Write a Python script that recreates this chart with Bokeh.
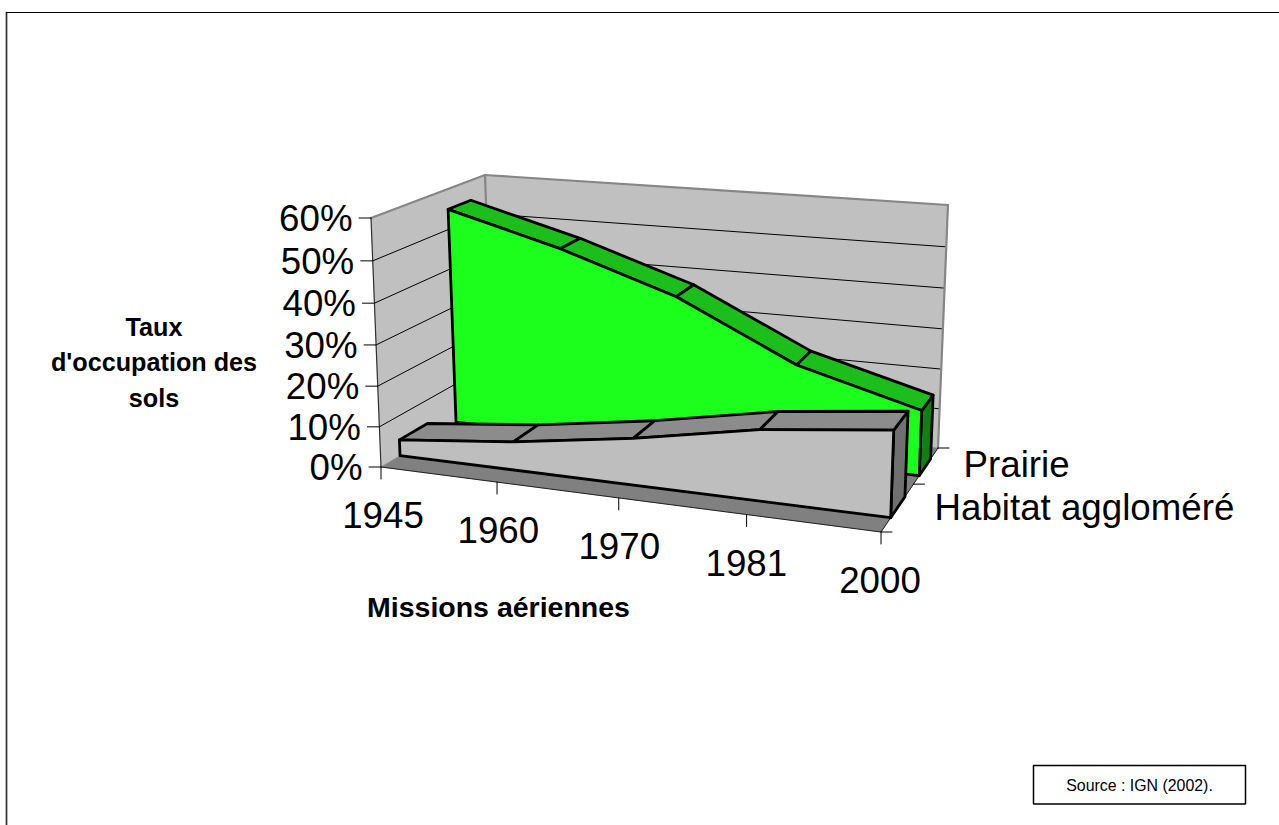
from bokeh.plotting import figure
from bokeh.embed import file_html
from bokeh.resources import INLINE
from bokeh.core.properties import value
from bokeh.models import Range1d

years = ["1945", "1960", "1970", "1981", "2000"]
series_names = ["Prairie", "Habitat aggloméré"]
prairie = [55.0, 47.4, 38.0, 24.0, 16.0]
habitat = [4.0, 7.0, 11.4, 17.0, 20.4]
y_ticks = [0, 10, 20, 30, 40, 50, 60]
y_title = ["Taux", "d'occupation des", "sols"]
x_title = "Missions aériennes"
source_note = "Source : IGN (2002)."

W, H = 1279, 825
FONT = value("Liberation Sans")

# Screen corners of the 3D box (front/back, left/right, bottom/top)
FLB, FLT = (381, 467), (371, 218)
BLB, BLT = (493, 400), (485, 175)
BRB, BRT = (938, 448), (948, 205)
FRB, FRT = (881, 532), (890, 263)
PERSP = 1.103
PERSP_V = 1.04
YMAX = 60.0


def lerp(a, b, t):
    return (a[0] + (b[0] - a[0]) * t, a[1] + (b[1] - a[1]) * t)


def proj(i, depth, val):
    """category index, screen depth fraction, value -> page position"""
    t = i / (len(years) - 1)
    u = t / (t + PERSP * (1 - t)) if t > 0 else 0.0
    f = val / YMAX
    w = f / (f + PERSP_V * (1 - f)) if f > 0 else 0.0
    bot = lerp(lerp(FLB, FRB, u), lerp(BLB, BRB, u), depth)
    top = lerp(lerp(FLT, FRT, u), lerp(BLT, BRT, u), depth)
    return lerp(bot, top, w)


def poly(p, pts, fill, line=None, lw=0):
    p.patch([q[0] for q in pts], [q[1] for q in pts], fill_color=fill,
            line_color=line if line else fill, line_width=lw if line else 0.5,
            line_join="round")


def seg(p, a, b, color="black", lw=1.0):
    p.line([a[0], b[0]], [a[1], b[1]], line_color=color, line_width=lw, line_cap="round")


def text(p, x, y, s, size, align="center", bold=False):
    p.text([x], [y], text=[s], text_font=FONT, text_font_size=f"{size}px",
           text_align=align, text_baseline="middle", text_color="black",
           text_font_style="bold" if bold else "normal")


p = figure(width=W, height=H, output_backend="svg", toolbar_location=None,
           x_range=Range1d(0.5, W + 0.5), y_range=Range1d(H + 0.5, 0.5), min_border=0,
           outline_line_color=None, background_fill_color="white",
           border_fill_color="white")
p.axis.visible = False
p.grid.visible = False

# page frame
seg(p, (6.5, 825), (6.5, 12.5), "#303030", 1.7)
seg(p, (6.5, 12.5), (1279, 12.5), "black", 1.0)

WALL, FLOOR, EDGE = "#C0C0C0", "#808080", "#868686"
poly(p, [FLB, FLT, BLT, BLB], WALL)
poly(p, [BLB, BLT, BRT, BRB], WALL)
poly(p, [FLB, BLB, BRB, FRB], FLOOR)

# gridlines on walls
for v in y_ticks[1:-1]:
    a = proj(0, 0, v)
    b = proj(0, 1, v)
    c = proj(len(years) - 1, 1, v)
    seg(p, a, b, "black", 1)
    seg(p, b, c, "black", 1)

# wall edges
seg(p, FLT, BLT, EDGE, 2.2)
seg(p, BLT, BLB, EDGE, 2.2)
seg(p, BLT, BRT, EDGE, 2.2)
seg(p, BRT, BRB, EDGE, 2.2)
seg(p, FLB, FLT, "#303030", 1.2)
seg(p, FLB, FRB, "#202020", 1)
seg(p, FRB, BRB, "#202020", 1)

# value ticks and labels
for v in y_ticks:
    a = proj(0, 0, v)
    seg(p, (a[0] - 12, a[1]), a, "black", 1)
    text(p, a[0] - 18.5, a[1] + 0.5, f"{v}%", 36.7, "right")

# category ticks and labels
for i, y in enumerate(years):
    a = proj(i, 0, 0)
    seg(p, a, (a[0], a[1] + 12), "black", 1)
    text(p, a[0] + 2 - 0.75 * i, a[1] + 48, y, 36.7)

# depth ticks and labels
n = len(years) - 1
for d in (0, 0.57, 1):
    a = proj(n, d, 0)
    seg(p, a, (a[0] + 11, a[1]), "black", 1)
for name, d in zip(series_names, (0.80, 0.29)):
    a = proj(n, d, 0)
    text(p, a[0] + 37, a[1] - 0.4, name, 36.7, "left")

# titles
for k, s in enumerate(y_title):
    text(p, 154, 326.5 + 35.7 * k, s, 25.2, bold=True)
text(p, 498.5, 607, x_title, 28.5, bold=True)


def ribbon(vals, front, back, c_top, c_front, c_side):
    pts_f = [proj(i, front, v) for i, v in enumerate(vals)]
    pts_b = [proj(i, back, v) for i, v in enumerate(vals)]
    base_fl, base_fr = proj(0, front, 0), proj(n, front, 0)
    base_br = proj(n, back, 0)
    # right end
    poly(p, [pts_f[-1], pts_b[-1], base_br, base_fr], c_side, "black", 2.8)
    # top faces
    for i in range(n):
        poly(p, [pts_f[i], pts_f[i + 1], pts_b[i + 1], pts_b[i]], c_top, "black", 2.8)
    # front face
    poly(p, [base_fl] + pts_f + [base_fr], c_front, "black", 2.8)


ribbon(prairie, 0.67, 0.87, "#1CBE1C", "#1CFF1C", "#108010")
ribbon(habitat, 0.17, 0.42, "#8C8C8C", "#BEBEBE", "#707070")

# source box
p.quad(left=[1033.5], right=[1245.5], top=[765.5], bottom=[804], fill_color="white",
       line_color="black", line_width=1.5)
text(p, 1139.5, 785, source_note, 15.9)

open("out.html", "w").write(file_html(p, INLINE))
